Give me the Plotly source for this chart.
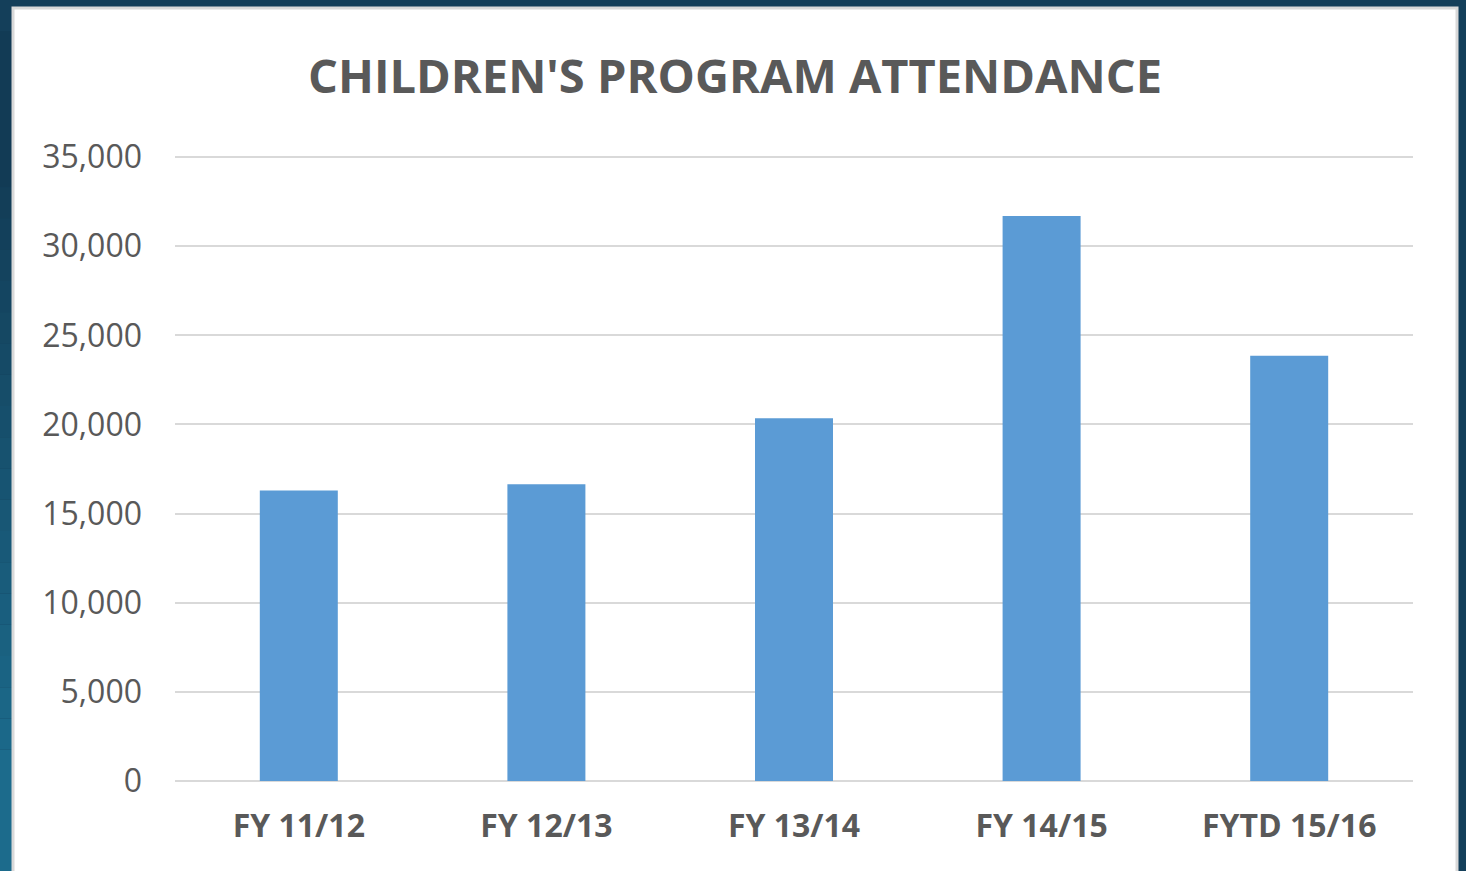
import plotly.graph_objects as go

categories = ["FY 11/12", "FY 12/13", "FY 13/14", "FY 14/15", "FYTD 15/16"]
attendance = [16300, 16650, 20350, 31700, 23850]
y_ticks = [0, 5000, 10000, 15000, 20000, 25000, 30000, 35000]
y_tick_labels = ["0", "5,000", "10,000", "15,000", "20,000", "25,000", "30,000", "35,000"]

W, H = 1466, 871
Y_TOP = 35060
fig = go.Figure()
fig.add_trace(go.Bar(
    x=categories, y=attendance, width=0.315,
    marker=dict(color="#5b9bd5", line=dict(width=0)),
))

shapes = []
def lerp(c1, c2, t):
    return "#%02x%02x%02x" % tuple(int(round(a + (b - a) * t)) for a, b in zip(c1, c2))
top_c = (0x12, 0x3b, 0x55)
bot_c = (0x1c, 0x6b, 0x8c)
n = 20
for i in range(n):
    y0 = 1 - i / n
    y1 = 1 - (i + 1) / n
    shapes.append(dict(type="rect", xref="paper", yref="paper", x0=-0.2, x1=0.5,
                       y0=y1 - 0.2 * (i == n - 1), y1=y0 + 0.2 * (i == 0),
                       fillcolor=lerp(top_c, bot_c, i / (n - 1)), line=dict(width=0), layer="below"))
plot_top = 156
shapes.append(dict(type="rect", xref="paper", yref="paper",
                   x0=(13 - 175) / (1413 - 175), x1=(1457 - 175) / (1413 - 175),
                   y0=(781 - 880) / (781 - plot_top), y1=(781 - 8) / (781 - plot_top),
                   fillcolor="white", line=dict(color="#d9d9d9", width=3), layer="below"))

fig.update_layout(
    width=W, height=H,
    paper_bgcolor="#143f5a",
    plot_bgcolor="rgba(0,0,0,0)",
    margin=dict(l=175, r=53, t=plot_top, b=90, pad=0),
    showlegend=False,
    shapes=shapes,
    title=dict(text="CHILDREN'S PROGRAM ATTENDANCE", x=735 / W, xanchor="center",
               y=1 - 77 / H, yanchor="middle", yref="container",
               font=dict(family="Open Sans", size=47, color="#595959", weight="bold")),
    font=dict(family="Open Sans", color="#595959"),
)
fig.update_yaxes(range=[0, Y_TOP], tickvals=y_ticks, ticktext=y_tick_labels,
                 showgrid=True, gridcolor="#d9d9d9", gridwidth=2,
                 zeroline=True, zerolinecolor="#d9d9d9", zerolinewidth=2,
                 showline=False, ticks="", ticklabelstandoff=32,
                 tickfont=dict(family="Open Sans", size=32, color="#595959"))
fig.update_xaxes(showgrid=False, showline=False, ticks="", ticklabelstandoff=23,
                 tickfont=dict(family="Open Sans", size=32, color="#595959", weight="bold"))

fig.write_html("out.html", config={"displayModeBar": False},
               post_script="document.body.style.margin='0';document.body.style.overflow='hidden';")
